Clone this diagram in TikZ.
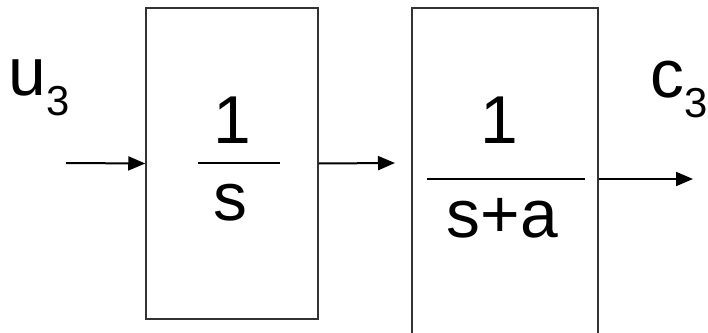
\documentclass[tikz,border=0pt]{standalone}
\usepackage{fontspec}
\setmainfont{Liberation Sans}
\usepackage{tikz}
\usetikzlibrary{arrows.meta,positioning,calc}

\newcommand{\sublbl}[2]{#1{\fontsize{42}{42}\selectfont\raisebox{-20bp}{#2}}}

\begin{document}
\begin{tikzpicture}[x=1bp, y=1bp,
		blk/.style={draw=black!80, line width=1.5bp, rectangle, inner sep=0pt},
		sig/.style={draw=black, line width=2bp, -{Triangle[length=17bp, width=14bp]}},
		bar/.style={draw=black, line width=1.5bp},
		txt/.style={inner sep=0pt, anchor=base, font=\fontsize{68}{70}\selectfont}
	]

			% picture size
			\useasboundingbox (0,0) rectangle (708,332);
			\clip (0,0) rectangle (708,332);

			\def\ysigA{169} % level of the first two signals
			\def\ysigB{153} % level of the output signal

			% Blocks
			\node[blk, minimum width=172bp, minimum height=311bp] (blkA) at (232,168.5) {};
			\node[blk, minimum width=186bp, minimum height=342bp] (blkB) at (505,153) {};

			% Transfer functions
			\node[txt] (numA) at (232.5,189) {1};
			\node[txt] (denA) at (230,112) {s};
			\draw[bar] (198,\ysigA) -- (280,\ysigA);

			\node[txt] (numB) at (499,189) {1};
			\node[txt] (denB) at (502.5,95) {s+a};
			\draw[bar] (427,\ysigB) -- (585,\ysigB);

			% Signals
			\coordinate (uin) at (66,\ysigA);
			\coordinate (mid) at (395,\ysigA);
			\coordinate (cout) at (693,\ysigB);

			\draw[sig] (uin) -- (blkA.west);
			\draw[sig] (blkA.east) -- (mid);
			\draw[sig] (blkB.east) -- (cout);

			% Labels
			\node[txt, anchor=base west] (ulbl) at (8.5,237) {\sublbl{u}{3}};
			\node[txt, anchor=base west] (clbl) at (650,235) {\sublbl{c}{3}};

\end{tikzpicture}
\end{document}
